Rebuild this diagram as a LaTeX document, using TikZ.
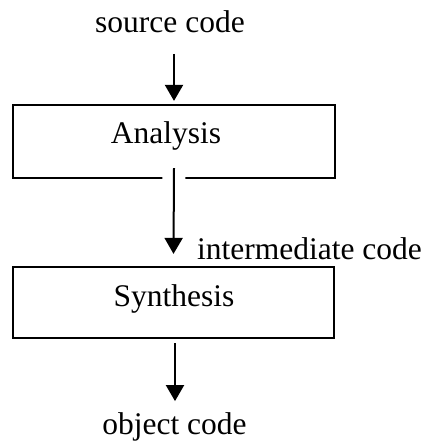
\documentclass[tikz,border=0pt]{standalone}
\usepackage{fontspec}
\setmainfont{Liberation Serif}
\usetikzlibrary{arrows.meta}

\begin{document}
\begin{tikzpicture}[x=1pt,y=1pt,
  block/.style={draw, line width=2.2pt, minimum width=322pt, minimum height=73pt, inner sep=0pt},
  lbl/.style={font=\fontsize{31.5}{36}\selectfont, inner sep=0pt, anchor=base},
  flow/.style={line width=2pt, -{Triangle[length=16pt,width=18pt]}},
  gap/.style={preaction={draw=white, line width=23pt, -}}]
\useasboundingbox (0,0) rectangle (427,446);

\node[block] (analysis) at (174,304.5) {};
\node[block, minimum width=321pt, minimum height=71pt] (synthesis) at (173.5,143.5) {};

\node[lbl] (src) at (170,413) {source code};
\node[lbl] (analysis-txt) at (166,302) {Analysis};
\node[lbl] (inter) at (309.5,186) {intermediate code};
\node[lbl] (synthesis-txt) at (174,139) {Synthesis};
\node[lbl] (obj) at (174.5,11) {object code};

\draw[flow] ([yshift=50pt]analysis.north) -- ([yshift=3pt]analysis.north);
\draw[flow, gap] ([yshift=11pt]analysis.south) -- ([yshift=12pt]synthesis.north);
\draw[flow] ([xshift=1.5pt,yshift=-4pt]synthesis.south) -- ([xshift=1.5pt,yshift=-62pt]synthesis.south);
\end{tikzpicture}
\end{document}
